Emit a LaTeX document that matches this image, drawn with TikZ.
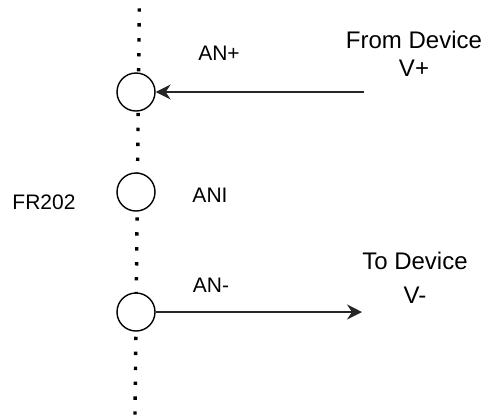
\documentclass[tikz,border=0pt]{standalone}
\usepackage{fontspec}
\setmainfont{Liberation Sans}
\usetikzlibrary{arrows.meta}
\tikzset{
  term/.style={circle, draw=black, fill=white, line width=1.4pt, minimum size=38pt, inner sep=0pt},
  lbl/.style={font=\fontsize{21}{25}\selectfont, inner sep=0pt, text=black},
  dev/.style={font=\fontsize{24}{30}\selectfont, inner sep=0pt, align=center, text=black},
  wire/.style={line width=1.5pt, draw=black!85, -{Stealth[length=15pt,width=15pt,inset=5pt]}},
}
\begin{document}
\begin{tikzpicture}[x=1pt,y=-1pt]
\useasboundingbox (0,0) rectangle (492,416);
\coordinate (dtop) at (139.3,8.3);
\coordinate (dbot) at (135,414.7);
\draw[line width=3.4pt, black, dash pattern=on 3.4pt off 11.53pt] (dtop) -- (dbot);
\node[term] (c1) at (136,92) {};
\node[term] (c2) at (136,192) {};
\node[term] (c3) at (136,312) {};
\coordinate (src) at (364,92);
\coordinate (dst) at (362,312);
\draw[wire] (src) -- (c1.east);
\draw[wire] (c3.east) -- (dst);
\node[lbl] (anp) at (219,53) {AN+};
\node[lbl] (ani) at (210,195) {ANI};
\node[lbl] (anm) at (211,285) {AN-};
\node[lbl] (fr) at (44,202) {FR202};
\node[dev, font=\fontsize{24}{28.5}\selectfont] (from) at (414,54) {From Device\\V+};
\node[dev, font=\fontsize{24}{34}\selectfont] (to) at (415,278) {To Device\\V-};
\end{tikzpicture}
\end{document}
